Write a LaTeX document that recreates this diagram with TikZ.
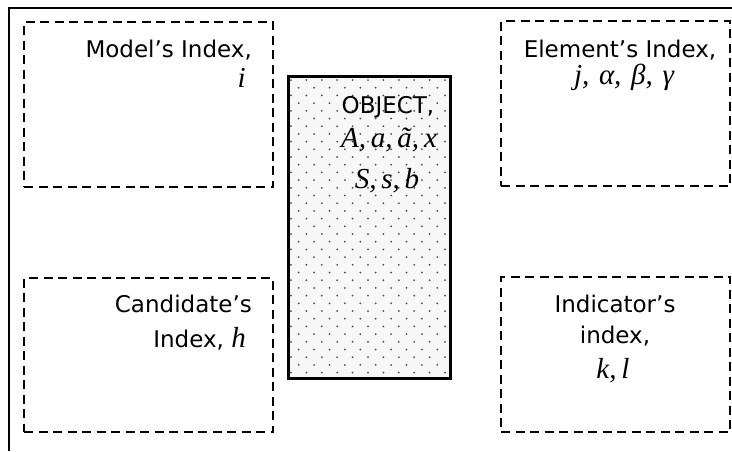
\documentclass[tikz,border=0pt]{standalone}
\usepackage{fontspec}
\setmainfont{DejaVu Sans}
\newfontfamily\mfont{Liberation Serif}
\begin{document}
\begin{tikzpicture}[x=1pt,y=-1pt,
  dbox/.style={draw=black, line width=2pt, dash pattern=on 9pt off 5.5pt, rectangle, inner sep=0pt},
  objline/.style={draw=black, line width=2.8pt},
  lab/.style={inner sep=0pt, font=\fontsize{23}{27}\selectfont},
  mlab/.style={inner sep=0pt, font=\mfont\itshape\fontsize{29}{34}\selectfont},
  dotc/.style={fill=black!70}]
\useasboundingbox (0,0) rectangle (732,451);
\draw[line width=1.5pt] (9,451) -- (9,8) -- (732,8);
% boxes
\node[dbox, minimum width=249pt, minimum height=165pt] (model) at (148.5,104.5) {};
\node[dbox, minimum width=229pt, minimum height=165pt] (elem) at (615.5,103.5) {};
\node[dbox, minimum width=249pt, minimum height=154pt] (cand) at (148.5,355) {};
\node[dbox, minimum width=229pt, minimum height=155pt] (indic) at (615.5,354.5) {};
\node[rectangle, inner sep=0pt, minimum width=161pt, minimum height=301pt, fill=black!3] (obj) at (369.5,227.5) {};
\begin{scope}
\clip (obj.north west) rectangle (obj.south east);
\foreach \r in {0,...,40}{
  \foreach \c in {0,...,11}{
    \fill[dotc] ({291+\c*15.4+mod(\r,2)*7.7},{80+\r*7.7}) circle[radius=1pt];
  }
}
\end{scope}
\draw[objline] (obj.north west) rectangle (obj.south east);
% texts
\node[lab, anchor=base east] (t1) at (252,57) {Model’s Index,};
\node[mlab, anchor=base east] (t1m) at (246,87) {i};
\node[lab, anchor=base] (t2) at (620,57) {Element’s Index,};
\node[mlab, anchor=base] (t2m) at (624,84) {j,\,\,α,\,\,β,\,\,γ};
\node[lab, anchor=base] (t3) at (388,113) {OBJECT,};
\node[mlab, anchor=base] (t3a) at (389,147) {A,\,a,\,ã,\,x};
\node[mlab, anchor=base] (t3b) at (387,188) {S,\,s,\,b};
\node[lab, anchor=base east] (t4) at (252,312) {Candidate’s};
\node[lab, anchor=base east] (t4b) at (246,347) {Index, {\mfont\itshape\fontsize{29}{34}\selectfont h}};
\node[lab, anchor=base] (t5) at (615,312) {Indicator’s};
\node[lab, anchor=base] (t5b) at (615,343) {index,};
\node[mlab, anchor=base] (t5c) at (613,378) {k,\,l};
\end{tikzpicture}
\end{document}
